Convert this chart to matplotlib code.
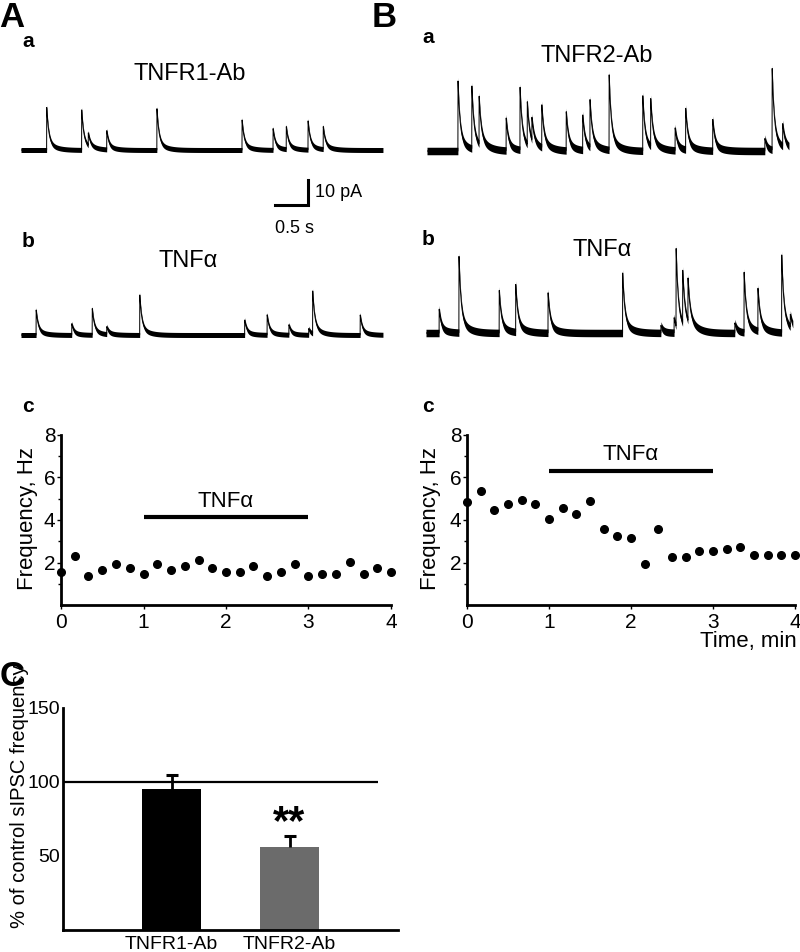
import numpy as np
import matplotlib
matplotlib.use('Agg')
import matplotlib.pyplot as plt

plt.rcParams['font.family'] = ['Liberation Sans', 'DejaVu Sans']

W, H = 800, 952

# --- sIPSC traces: event times (s) and peak amplitudes (pA)
aa_t = [0.39, 0.92, 1.02, 1.30, 2.06, 3.35, 3.82, 4.02, 4.35, 4.58]
aa_amp = [17, 16, 5, 7.5, 16.5, 12, 8.5, 9, 11.5, 9]
ab_t = [0.23, 0.77, 1.08, 1.30, 1.80, 3.39, 3.73, 4.06, 4.36, 4.42, 5.14]
ab_amp = [10, 4.5, 10.5, 3, 16, 6, 8, 4, 2.5, 17, 8]
ba_t = [0.47, 0.68, 0.79, 1.20, 1.41, 1.52, 1.59, 1.74, 2.11, 2.36, 2.47,
        2.76, 3.27, 3.39, 3.76, 3.92, 4.33, 5.12, 5.23, 5.39]
ba_amp = [28, 25, 19, 13, 25, 17, 9, 17, 15.5, 14, 19,
          30, 22, 19, 9, 16.5, 12.5, 5, 32.5, 9]
bb_t = [0.20, 0.50, 1.11, 1.36, 1.85, 2.98, 3.56, 3.76, 3.79, 3.89, 3.97,
        4.68, 4.82, 5.03, 5.39, 5.52]
bb_amp = [9.5, 30.5, 17, 19, 16, 24, 3, 6, 31, 21, 17, 4, 24, 17, 31, 5]

# --- frequency time courses (min, Hz)
time_min = [0, 0.167, 0.333, 0.5, 0.667, 0.833, 1, 1.167, 1.333, 1.5, 1.667, 1.833, 2,
            2.167, 2.333, 2.5, 2.667, 2.833, 3, 3.167, 3.333, 3.5, 3.667, 3.833, 4]
freq_r1 = [1.55, 2.3, 1.35, 1.63, 1.93, 1.74, 1.44, 1.93, 1.63, 1.84, 2.14, 1.74, 1.54,
           1.54, 1.84, 1.35, 1.54, 1.93, 1.35, 1.44, 1.44, 2.03, 1.44, 1.74, 1.55]
freq_r2 = [4.86, 5.36, 4.47, 4.74, 4.94, 4.74, 4.06, 4.55, 4.27, 4.88, 3.56, 3.25, 3.17,
           1.95, 3.56, 2.27, 2.27, 2.56, 2.56, 2.65, 2.75, 2.35, 2.35, 2.35, 2.35]
tnf_on = [1, 3]

# --- summary
groups = ['TNFR1-Ab', 'TNFR2-Ab']
pct = [95, 56]
pct_err = [10, 7.5]

fig = plt.figure(figsize=(W / 100, H / 100), dpi=100)


def px_axes(x0, y0, x1, y1):
    return fig.add_axes([x0 / W, 1 - y1 / H, (x1 - x0) / W, (y1 - y0) / H])


def ftext(x, y, s, **kw):
    return fig.text(x / W, 1 - y / H, s, **kw)


PX_PER_S = 66.0
PX_PER_PA = 2.5


def trace(x0, base, t_end, ev_t, ev_amp, band):
    ax = px_axes(x0, base - 110, x0 + t_end * PX_PER_S, base + 70)
    ax.set_xlim(0, t_end)
    ax.set_ylim(-70 / PX_PER_PA, 110 / PX_PER_PA)
    ax.axis('off')
    t = np.arange(0, t_end, 0.002)
    y = np.zeros_like(t)
    for t0, a in zip(ev_t, ev_amp):
        d = t - t0
        m = d >= 0
        y[m] += a * (0.8 * np.exp(-d[m] / 0.03) + 0.2 * np.exp(-d[m] / 0.12))
    ax.fill_between(t, y - band, y + band, color='black', lw=0)
    ax.plot(t, y, color='black', lw=0.7)
    return ax


ax_aa = trace(21, 150, 5.485, aa_t, aa_amp, 1.0)
trace(21, 335, 5.485, ab_t, ab_amp, 1.0)
trace(427, 151, 5.485, ba_t, ba_amp, 1.5)
trace(426, 333, 5.56, bb_t, bb_amp, 1.5)

# scale bar
sb_t, sb_pa = 0.5, 10
ax_aa.plot([4.35 - sb_t, 4.35, 4.35], [-22, -22, -22 + sb_pa], color='black', lw=2.2,
           solid_joinstyle='miter', clip_on=False)
ax_aa.text(4.45, -17, '10 pA', fontsize=13, va='center', ha='left')
ax_aa.text(3.85, -31.5, '0.5 s', fontsize=13, va='center', ha='left')


# frequency panels
def freq_panel(x0, x1, freq, bar_y):
    ax = px_axes(x0, 435, x1, 605)
    ax.plot(time_min, freq, 'o', color='black', ms=5.5, clip_on=False)
    ax.plot(tnf_on, [bar_y, bar_y], color='black', lw=3, solid_capstyle='butt')
    ax.text(2, bar_y + 0.25, 'TNF\u03b1', fontsize=16, ha='center', va='bottom')
    ax.set_xlim(0, 4)
    ax.set_ylim(0, 8)
    ax.set_xticks([0, 1, 2, 3, 4])
    ax.set_yticks([2, 4, 6, 8])
    ax.set_yticks([1, 3, 5, 7], minor=True)
    for s in ['top', 'right']:
        ax.spines[s].set_visible(False)
    for s in ['left', 'bottom']:
        ax.spines[s].set_linewidth(2)
    ax.tick_params(labelsize=15, length=3, width=1, pad=1)
    ax.tick_params(axis='x', pad=3)
    ax.tick_params(which='minor', length=2, width=1)
    return ax


freq_panel(61, 391, freq_r1, 4.12)
freq_panel(467, 795, freq_r2, 6.32)
ftext(28, 518, 'Frequency, Hz', rotation=90, fontsize=16, ha='center', va='center')
ftext(431, 518, 'Frequency, Hz', rotation=90, fontsize=16, ha='center', va='center')
ftext(797, 641, 'Time, min', fontsize=16, ha='right', va='center')

# summary bars
axc = px_axes(63, 708, 398, 930)
x = np.array([1, 2])
tops = np.array(pct) + np.array(pct_err)
axc.bar(x, pct, width=0.5, color=['black', '#6b6b6b'])
axc.vlines(x, pct, tops, color='black', lw=2)
axc.plot(x, tops, ls='none', marker='_', ms=8, mew=2.2, color='black')
axc.hlines(100, 0.0805, 2.75, color='black', lw=1.6)
axc.text(2, 59, '**', fontsize=30, weight='bold', ha='center', va='bottom')
axc.set_xlim(0.0805, 2.919)
axc.set_ylim(0, 150)
axc.set_xticks(x)
axc.set_xticklabels(groups)
axc.set_yticks([50, 100, 150])
for s in ['top', 'right']:
    axc.spines[s].set_visible(False)
for s in ['left', 'bottom']:
    axc.spines[s].set_linewidth(2)
axc.tick_params(labelsize=14, length=0, pad=2)
axc.tick_params(axis='x', pad=4)
ftext(20, 796, '% of control sIPSC frequency', rotation=90, fontsize=14.5,
      ha='center', va='center')

# panel letters and titles
ftext(-1, 1, 'A', fontsize=25, weight='bold', ha='left', va='top')
ftext(372, 1, 'B', fontsize=25, weight='bold', ha='left', va='top')
ftext(0, 660, 'C', fontsize=25, weight='bold', ha='left', va='top')
for (lx, ly, s) in [(22, 47, 'a'), (22, 247, 'b'), (22, 412, 'c'),
                    (422, 43, 'a'), (422, 245, 'b'), (422, 412, 'c')]:
    ftext(lx, ly, s, fontsize=15, weight='bold', ha='left', va='baseline')
ftext(190, 80, 'TNFR1-Ab', fontsize=17, ha='center', va='baseline')
ftext(597, 62, 'TNFR2-Ab', fontsize=17, ha='center', va='baseline')
ftext(188, 267, 'TNF\u03b1', fontsize=17, ha='center', va='baseline')
ftext(602, 256, 'TNF\u03b1', fontsize=17, ha='center', va='baseline')

fig.savefig('out.png', dpi=100)
